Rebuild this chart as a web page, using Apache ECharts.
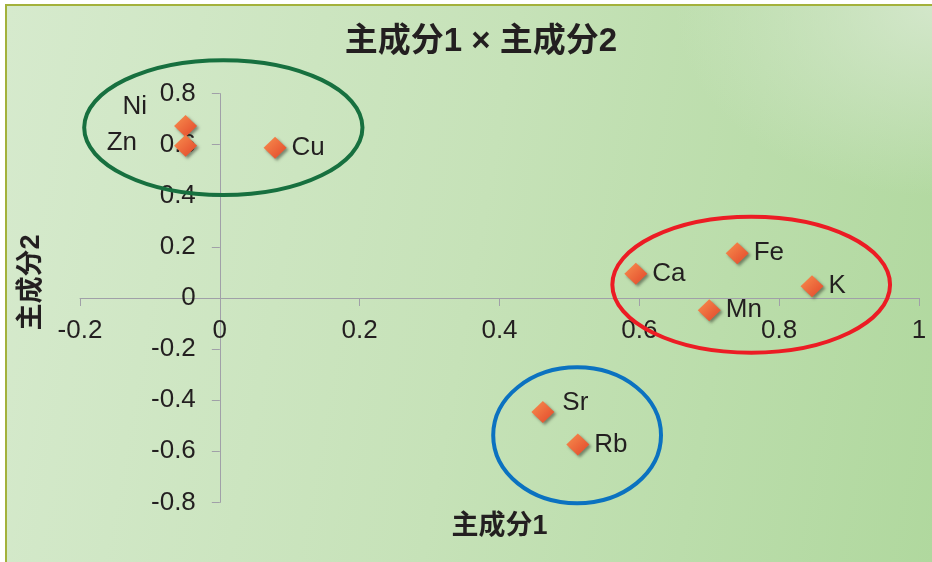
<!DOCTYPE html>
<html>
<head>
<meta charset="utf-8">
<script src="https://cdn.jsdelivr.net/npm/echarts@6/dist/echarts.min.js"></script>
<style>
  html, body { margin: 0; padding: 0; background: #ffffff; }
  #frame {
    position: absolute; left: 5px; top: 4px; width: 927px; height: 558px;
    border-top: 2px solid #a3b13b; border-left: 2px solid #a3b13b;
    background:
      radial-gradient(ellipse 260px 190px at 100% 0%, rgba(214,232,206,0.9), rgba(214,232,206,0)),
      linear-gradient(100deg, #d6eacd 0%, #c6e2b8 50%, #b0d89e 100%);
  }
  #chart { position: absolute; left: 0; top: 0; width: 932px; height: 562px; }
</style>
</head>
<body>
<div id="frame"></div>
<div id="chart"></div>
<script>
// Element loadings on the first two principal components
const elements = ['Ni', 'Zn', 'Cu', 'Ca', 'Fe', 'K', 'Mn', 'Sr', 'Rb'];
const pc1 = [-0.049, -0.049, 0.079, 0.595, 0.740, 0.847, 0.700, 0.462, 0.512];
const pc2 = [0.673, 0.596, 0.588, 0.095, 0.175, 0.046, -0.048, -0.446, -0.573];

// Element groups, outlined as ellipses (centre and half-axes in loading units)
const groupCenterX = [0.005, 0.760, 0.511];
const groupCenterY = [0.667, 0.052, -0.5375];
const groupRadiusX = [0.199, 0.1986, 0.120];
const groupRadiusY = [0.264, 0.266, 0.266];

// Axis ranges and tick step
const xRange = [-0.2, 1];
const yRange = [-0.8, 0.8];
const tickStep = 0.2;

const groupColors = ['#17703f', '#ec1c24', '#0b72c0'];
const textColor = '#231f20';
const axisColor = '#a0a0a8';
const latinFont = "'Liberation Sans', Arial, sans-serif";
const titleFont = "'Liberation Sans', 'Noto Sans CJK SC', sans-serif";

// Plot box in pixels
const plot = { left: 80, right: 13, top: 93.6, bottom: 59.6, width: 839, height: 408.8 };

// Label placement tweaks for crowded points
const labelPlacement = {
  Ni: { position: 'left', distance: 27 },
  Zn: { position: 'left', distance: 37 }
};
const labelShift = { Ni: [0, -19], Zn: [0, -3], Sr: [3, -9] };

const pointData = elements.map((name, i) => {
  const item = { name: name, value: [pc1[i], pc2[i]] };
  if (labelPlacement[name]) item.label = labelPlacement[name];
  return item;
});

const groupData = groupCenterX.map((cx, i) => [cx, groupCenterY[i], groupRadiusX[i], groupRadiusY[i]]);

// The axes cross at the origin: shift each axis from the plot edge to the zero line
const xAxisShift = -plot.height * (0 - yRange[0]) / (yRange[1] - yRange[0]);
const yAxisShift = -plot.width * (0 - xRange[0]) / (xRange[1] - xRange[0]);

const chart = echarts.init(document.getElementById('chart'), null, { renderer: 'canvas' });

chart.setOption({
  animation: false,
  backgroundColor: 'transparent',
  title: {
    text: '主成分1 × 主成分2',
    left: 476,
    top: 20,
    textAlign: 'center',
    textStyle: { fontFamily: titleFont, fontWeight: 'bold', fontSize: 33, color: textColor }
  },
  grid: { left: plot.left, right: plot.right, top: plot.top, bottom: plot.bottom, containLabel: false, outerBoundsMode: 'none' },
  xAxis: {
    type: 'value',
    position: 'bottom',
    offset: xAxisShift,
    min: xRange[0], max: xRange[1], interval: tickStep,
    name: '主成分1',
    nameLocation: 'middle',
    nameGap: 215,
    nameTextStyle: { fontFamily: titleFont, fontWeight: 'bold', fontSize: 27, color: textColor },
    axisLine: { onZero: false, lineStyle: { color: axisColor, width: 1 } },
    axisTick: { show: true, length: 8, lineStyle: { color: axisColor } },
    axisLabel: { fontFamily: latinFont, fontSize: 26, color: textColor, margin: 20, showMinLabel: true, showMaxLabel: true },
    splitLine: { show: false }
  },
  yAxis: {
    type: 'value',
    position: 'left',
    offset: yAxisShift,
    min: yRange[0], max: yRange[1], interval: tickStep,
    axisLine: { onZero: false, lineStyle: { color: axisColor, width: 1 } },
    axisTick: { show: true, length: 8, lineStyle: { color: axisColor } },
    axisLabel: { fontFamily: latinFont, fontSize: 26, color: textColor, margin: 24, showMinLabel: true, showMaxLabel: true },
    splitLine: { show: false }
  },
  graphic: [
    {
      type: 'text',
      x: 32, y: 282.5,
      rotation: Math.PI / 2,
      style: {
        text: '主成分2',
        font: "bold 27px " + titleFont,
        fill: textColor,
        align: 'center', verticalAlign: 'middle',
        textAlign: 'center', textVerticalAlign: 'middle'
      }
    }
  ],
  series: [
    {
      type: 'custom',
      clip: false,
      silent: true,
      z: 3,
      data: groupData,
      encode: { x: 0, y: 1 },
      renderItem: function (params, api) {
        const c = api.coord([api.value(0), api.value(1)]);
        const s = api.size([api.value(2), api.value(3)]);
        return {
          type: 'ellipse',
          shape: { cx: c[0], cy: c[1], rx: s[0], ry: s[1] },
          style: { fill: 'none', stroke: groupColors[params.dataIndex], lineWidth: 4 }
        };
      }
    },
    {
      type: 'scatter',
      symbol: 'diamond',
      symbolSize: [23, 22],
      z: 4,
      data: pointData,
      itemStyle: {
        opacity: 1,
        color: new echarts.graphic.LinearGradient(0, 0, 1, 1, [
          { offset: 0, color: '#f8904f' },
          { offset: 1, color: '#e2452a' }
        ]),
        shadowColor: 'rgba(40,40,30,0.5)',
        shadowBlur: 3,
        shadowOffsetX: 2,
        shadowOffsetY: 2
      },
      label: {
        show: true,
        position: 'right',
        distance: 5,
        formatter: '{b}',
        fontFamily: latinFont,
        fontSize: 26,
        color: textColor
      },
      labelLayout: function (params) {
        const shift = labelShift[elements[params.dataIndex]] || [0, 0];
        return { hideOverlap: false, dx: shift[0], dy: shift[1] };
      }
    }
  ]
});
</script>
</body>
</html>
